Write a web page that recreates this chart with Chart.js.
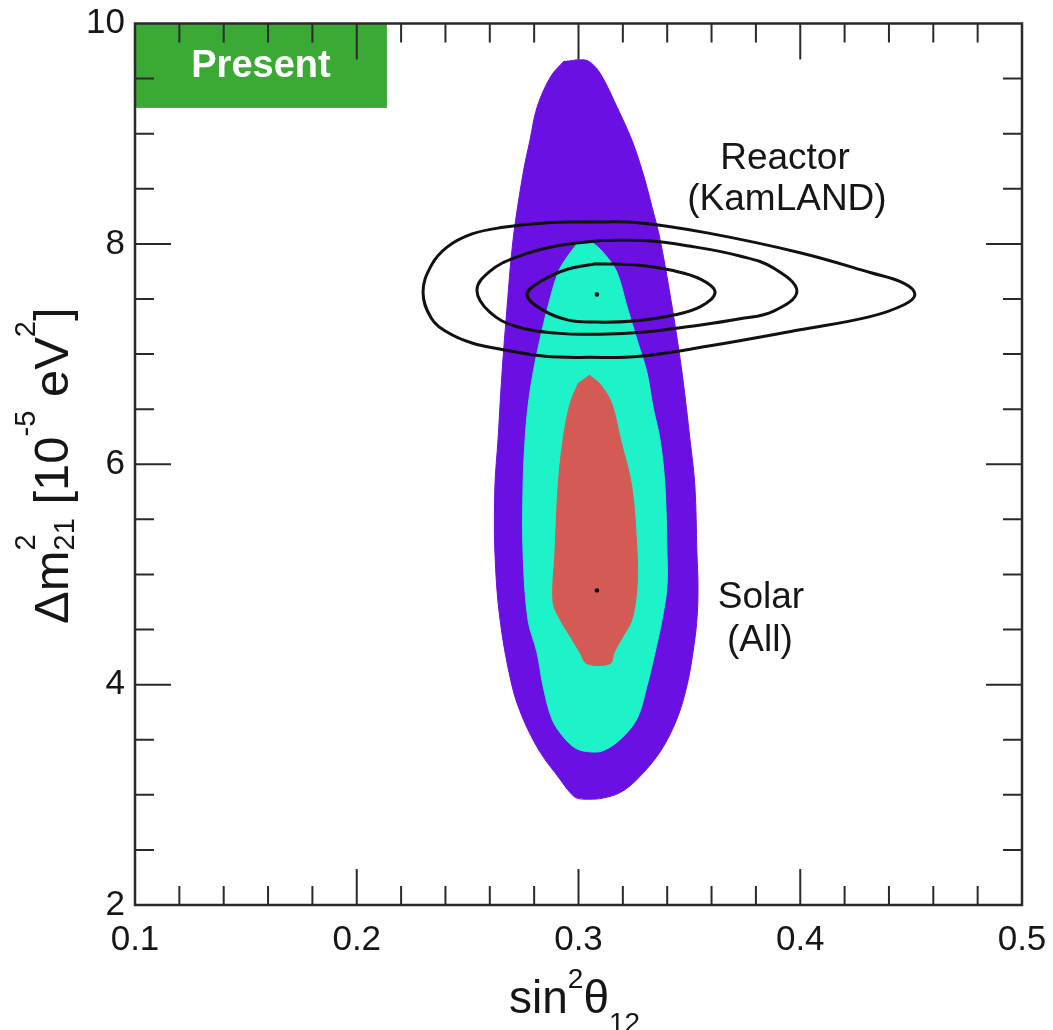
<!DOCTYPE html>
<html lang="en">
<head>
    <meta charset="UTF-8">
    <title>Solar and KamLAND allowed regions</title>
    <style>
        body { margin: 0; background: #fff; }
        canvas { display: block; }
    </style>
</head>
<body>
    <canvas id="myContourChart" width="1053" height="1030"></canvas>

    <script src="https://cdn.jsdelivr.net/npm/chart.js@4.4.1/dist/chart.umd.min.js"></script>
    <script>
    // axis ticks
    var xTicks = [0.1, 0.2, 0.3, 0.4, 0.5];
    var yTicks = [2, 4, 6, 8, 10];

    // solar (all) regions: [sin^2 theta12, dm2_21]
    var solarOuter = [[0.2985, 9.67], [0.3043, 9.66], [0.3097, 9.55], [0.3174, 9.24], [0.3241, 8.94], [0.3291, 8.64],
        [0.3331, 8.34], [0.3368, 8.04], [0.3422, 7.43], [0.3467, 6.83], [0.3503, 6.22], [0.3525, 5.80],
        [0.3534, 5.20], [0.3539, 4.89], [0.3534, 4.59], [0.3516, 4.29], [0.3489, 3.99], [0.3444, 3.69],
        [0.3368, 3.39], [0.3264, 3.14], [0.3187, 3.02], [0.3110, 2.97], [0.3050, 2.96], [0.2993, 2.97],
        [0.2962, 3.02], [0.2917, 3.14], [0.2826, 3.39], [0.2750, 3.69], [0.2700, 3.99], [0.2646, 4.59],
        [0.2623, 5.20], [0.2623, 5.80], [0.2637, 6.22], [0.2655, 6.83], [0.2678, 7.43], [0.2705, 8.04],
        [0.2750, 8.64], [0.2781, 8.94], [0.2813, 9.24], [0.2875, 9.52], [0.2935, 9.66]];
    var solarMiddle = [[0.3030, 8.02], [0.3070, 8.00], [0.3129, 7.88], [0.3174, 7.74], [0.3219, 7.43], [0.3264, 7.13],
        [0.3309, 6.83], [0.3336, 6.52], [0.3368, 6.22], [0.3390, 5.80], [0.3399, 5.20], [0.3399, 4.89],
        [0.3377, 4.59], [0.3345, 4.29], [0.3309, 3.99], [0.3264, 3.69], [0.3187, 3.50], [0.3110, 3.40],
        [0.3052, 3.39], [0.2990, 3.42], [0.2930, 3.53], [0.2880, 3.69], [0.2840, 3.99], [0.2813, 4.29],
        [0.2772, 4.59], [0.2750, 5.20], [0.2750, 5.80], [0.2759, 6.22], [0.2772, 6.52], [0.2795, 6.83],
        [0.2826, 7.13], [0.2862, 7.43], [0.2908, 7.74], [0.2948, 7.88], [0.2993, 8.00]];
    var solarInner = [[0.3048, 6.81], [0.3100, 6.72], [0.3150, 6.55], [0.3190, 6.22], [0.3240, 5.80], [0.3264, 5.20],
        [0.3264, 4.89], [0.3241, 4.59], [0.3201, 4.44], [0.3160, 4.29], [0.3142, 4.19], [0.3038, 4.19],
        [0.3007, 4.29], [0.2962, 4.44], [0.2917, 4.59], [0.2885, 4.75], [0.2894, 5.20], [0.2908, 5.80],
        [0.2930, 6.22], [0.2962, 6.55], [0.3000, 6.74]];

    // reactor (KamLAND) contour lines
    var reactorInner = [[0.308, 7.82], [0.325, 7.81], [0.342, 7.76], [0.355, 7.68], [0.3616, 7.56], [0.355, 7.43],
        [0.342, 7.35], [0.325, 7.30], [0.308, 7.29], [0.295, 7.31], [0.283, 7.41], [0.2768, 7.54],
        [0.283, 7.66], [0.295, 7.77], [0.308, 7.82]];
    var reactorMiddle = [[0.310, 8.03], [0.330, 8.03], [0.350, 7.98], [0.3728, 7.89], [0.388, 7.78], [0.3985, 7.57],
        [0.388, 7.39], [0.3728, 7.32], [0.350, 7.25], [0.330, 7.20], [0.310, 7.18], [0.290, 7.19],
        [0.272, 7.25], [0.260, 7.38], [0.2542, 7.58], [0.260, 7.75], [0.272, 7.88], [0.290, 7.98], [0.310, 8.03]];
    var reactorOuter = [[0.305, 8.20], [0.3277, 8.19], [0.358, 8.10], [0.3999, 7.92], [0.4315, 7.74], [0.447, 7.64],
        [0.4517, 7.54], [0.447, 7.45], [0.4315, 7.34], [0.3999, 7.22], [0.358, 7.07], [0.3277, 6.98],
        [0.305, 6.97], [0.285, 6.98], [0.266, 7.04], [0.252, 7.10], [0.2407, 7.20], [0.2335, 7.33],
        [0.2299, 7.56], [0.2335, 7.80], [0.2407, 7.97], [0.252, 8.09], [0.266, 8.15], [0.285, 8.19], [0.305, 8.20]];

    // best fit points
    var reactorBest = [[0.3083, 7.54]];
    var solarBest = [[0.3083, 4.855]];

    var FONT = '"Liberation Sans", Arial, Helvetica, sans-serif';
    var INK = '#161616';

    // labels in data coordinates
    var notes = [
        { text: 'Reactor', x: 0.3931, y: 8.77 },
        { text: '(KamLAND)', x: 0.3940, y: 8.40 },
        { text: 'Solar', x: 0.3823, y: 4.79 },
        { text: '(All)', x: 0.3818, y: 4.40 }
    ];
    var presentBox = { x0: 0.1, x1: 0.2136, y0: 9.234, y1: 10, text: 'Present' };

    function toXY(list) {
        return list.map(function (p) { return { x: p[0], y: p[1] }; });
    }

    function region(list, color, order) {
        return {
            data: toXY(list),
            showLine: true,
            fill: 'shape',
            backgroundColor: color,
            borderColor: color,
            borderWidth: 1,
            pointRadius: 0,
            tension: 0.35,
            order: order
        };
    }

    function contour(list, order) {
        return {
            data: toXY(list),
            showLine: true,
            fill: false,
            borderColor: '#111',
            borderWidth: 3,
            pointRadius: 0,
            tension: 0.4,
            order: order
        };
    }

    function dot(list) {
        return {
            data: toXY(list),
            pointRadius: 2.2,
            pointBackgroundColor: '#000',
            pointBorderWidth: 0,
            order: 0
        };
    }

    // draw sub/superscripted text along a baseline starting at (0,0)
    function drawRich(ctx, parts, size, small, raise, lower) {
        var x = 0;
        parts.forEach(function (p) {
            if (p.t) {
                ctx.font = size + 'px ' + FONT;
                ctx.fillText(p.t, x, 0);
                x += ctx.measureText(p.t).width;
            } else {
                ctx.font = small + 'px ' + FONT;
                var w = 0;
                if (p.sup) {
                    ctx.fillText(p.sup, x, -raise);
                    w = Math.max(w, ctx.measureText(p.sup).width);
                }
                if (p.sub) {
                    ctx.fillText(p.sub, x, lower);
                    w = Math.max(w, ctx.measureText(p.sub).width);
                }
                x += w;
            }
        });
    }

    function noPad(s) {
        s.paddingTop = 0;
        s.paddingBottom = 0;
        s.paddingLeft = 0;
        s.paddingRight = 0;
    }

    var framePlugin = {
        id: 'frame',
        beforeDatasetsDraw: function (chart) {
            var ctx = chart.ctx, sx = chart.scales.x, sy = chart.scales.y;
            var l = sx.getPixelForValue(presentBox.x0), r = sx.getPixelForValue(presentBox.x1);
            var t = sy.getPixelForValue(presentBox.y1), b = sy.getPixelForValue(presentBox.y0);
            ctx.save();
            ctx.fillStyle = '#3aaa35';
            ctx.fillRect(l, t, r - l, b - t);
            ctx.fillStyle = '#fff';
            ctx.font = 'bold 38px ' + FONT;
            ctx.textAlign = 'center';
            ctx.textBaseline = 'middle';
            ctx.fillText(presentBox.text, (l + r) / 2, (t + b) / 2 + 1);
            ctx.restore();
        },
        afterDatasetsDraw: function (chart) {
            var ctx = chart.ctx, a = chart.chartArea, sx = chart.scales.x, sy = chart.scales.y;
            ctx.save();
            ctx.strokeStyle = '#2a2a2a';
            ctx.lineWidth = 2.5;
            ctx.strokeRect(a.left, a.top, a.right - a.left, a.bottom - a.top);
            ctx.lineWidth = 2;
            ctx.beginPath();
            // x ticks, minor every 0.02
            for (var i = 1; i < 20; i++) {
                var v = sx.min + i * 0.02;
                var px = sx.getPixelForValue(v);
                var len = (i % 5 === 0) ? 36 : 19;
                ctx.moveTo(px, a.bottom); ctx.lineTo(px, a.bottom - len);
                ctx.moveTo(px, a.top); ctx.lineTo(px, a.top + len);
            }
            // y ticks, minor every 0.5
            for (var j = 1; j < 16; j++) {
                var w = sy.min + j * 0.5;
                var py = sy.getPixelForValue(w);
                var ylen = (j % 4 === 0) ? 36 : 19;
                ctx.moveTo(a.left, py); ctx.lineTo(a.left + ylen, py);
                ctx.moveTo(a.right, py); ctx.lineTo(a.right - ylen, py);
            }
            ctx.stroke();

            // annotations
            ctx.fillStyle = INK;
            ctx.font = '37px ' + FONT;
            ctx.textAlign = 'center';
            ctx.textBaseline = 'middle';
            notes.forEach(function (n) {
                ctx.fillText(n.text, sx.getPixelForValue(n.x), sy.getPixelForValue(n.y));
            });

            // axis titles
            ctx.textAlign = 'left';
            ctx.textBaseline = 'alphabetic';
            ctx.save();
            ctx.translate(68, 624);
            ctx.rotate(-Math.PI / 2);
            drawRich(ctx, [{ t: 'Δm' }, { sup: '2', sub: '21' }, { t: ' [10' }, { sup: '-5' }, { t: ' eV' }, { sup: '2' }, { t: ']' }],
                49, 29, 33, 6);
            ctx.restore();
            ctx.save();
            ctx.translate(509, 1013);
            drawRich(ctx, [{ t: 'sin' }, { sup: '2' }, { t: 'θ' }, { sub: '12' }], 46, 28, 25, 19);
            ctx.restore();
            ctx.restore();
        }
    };

    function drawContourChart() {
        var canvas = document.querySelector('#myContourChart');
        new Chart(canvas, {
            type: 'scatter',
            data: {
                datasets: [
                    region(solarOuter, '#6a10e2', 8),
                    region(solarMiddle, '#1ef2c8', 7),
                    region(solarInner, '#d45a55', 6),
                    contour(reactorOuter, 3),
                    contour(reactorMiddle, 2),
                    contour(reactorInner, 1),
                    dot(reactorBest),
                    dot(solarBest)
                ]
            },
            options: {
                responsive: false,
                animation: false,
                devicePixelRatio: 1,
                layout: { padding: { top: 23.5, right: 31, left: 0, bottom: 0 } },
                plugins: { legend: { display: false }, tooltip: { enabled: false } },
                scales: {
                    x: {
                        type: 'linear',
                        min: 0.1,
                        max: 0.5,
                        grid: { display: false, tickLength: 0 },
                        border: { display: false },
                        afterBuildTicks: function (s) { s.ticks = xTicks.map(function (v) { return { value: v }; }); },
                        afterFit: function (s) { s.height = 125; noPad(s); },
                        ticks: {
                            color: INK,
                            padding: 14,
                            maxRotation: 0,
                            font: { family: FONT, size: 35 },
                            callback: function (v) { return String(v); }
                        }
                    },
                    y: {
                        type: 'linear',
                        min: 2,
                        max: 10,
                        grid: { display: false, tickLength: 0 },
                        border: { display: false },
                        afterBuildTicks: function (s) { s.ticks = yTicks.map(function (v) { return { value: v }; }); },
                        afterFit: function (s) { s.width = 135; noPad(s); },
                        ticks: {
                            color: INK,
                            padding: 10,
                            font: { family: FONT, size: 35 },
                            callback: function (v) { return String(v); }
                        }
                    }
                }
            },
            plugins: [framePlugin]
        });
    }

    drawContourChart();
    </script>
</body>
</html>
